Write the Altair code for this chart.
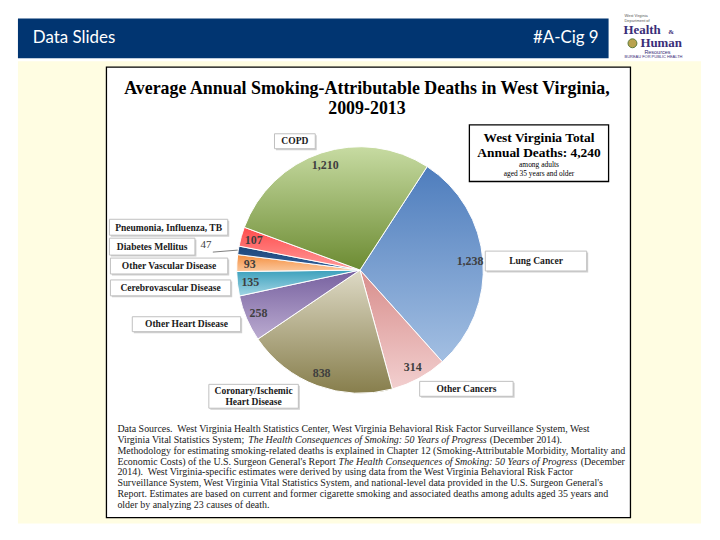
import math
import altair as alt
import pandas as pd

# ---------------- data ----------------
causes = [
    "Lung Cancer",
    "Other Cancers",
    "Coronary/Ischemic Heart Disease",
    "Other Heart Disease",
    "Cerebrovascular Disease",
    "Other Vascular Disease",
    "Diabetes Mellitus",
    "Pneumonia, Influenza, TB",
    "COPD",
]
deaths = [1238, 314, 838, 258, 135, 93, 47, 107, 1210]
value_text = ["1,238", "314", "838", "258", "135", "93", "47", "107", "1,210"]

TOTAL = sum(deaths)
START = math.radians(33)

df = pd.DataFrame({
    "order": list(range(len(causes))),
    "cause": causes,
    "deaths": deaths,
    "label": value_text,
})

# ---------------- styles ----------------
slice_grad = [
    ("#4E7DBD", "#A3BFE2"),   # Lung Cancer
    ("#D88E8C", "#F2CFCF"),   # Other Cancers
    ("#DEDAC6", "#877E4C"),   # Coronary
    ("#76609F", "#BBABD0"),   # Other Heart
    ("#3BA0BC", "#A2D5E4"),   # Cerebrovascular
    ("#F48E3E", "#FBC89E"),   # Other Vascular
    ("#1F477A", "#32609A"),   # Diabetes
    ("#FF4C4C", "#FF9A9A"),   # Pneumonia
    ("#C7DBA2", "#6C8B32"),   # COPD
]

OFF = 8  # page margin
W, H = 708, 524
anchor = pd.DataFrame({"k": [0]})


def rect(x1, y1, x2, y2, fill, stroke=None, sw=1.0):
    kw = dict(fill=fill)
    if stroke:
        kw.update(stroke=stroke, strokeWidth=sw)
    return alt.Chart(anchor).mark_rect(**kw).encode(
        x=alt.value(x1 - OFF), x2=alt.value(x2 - OFF),
        y=alt.value(y1 - OFF), y2=alt.value(y2 - OFF))


def txt(s, x, y, size, weight="normal", style="normal", font="Liberation Serif",
        color="#000000", align="left", baseline="middle"):
    return alt.Chart(anchor).mark_text(
        font=font, fontSize=size, fontWeight=weight, fontStyle=style,
        color=color, align=align, baseline=baseline).encode(
        x=alt.value(x - OFF), y=alt.value(y - OFF), text=alt.value(s))


def labelbox(x1, y1, x2, y2, lines, cx, cy):
    out = [rect(x1 + 1.5, y1 + 1.5, x2 + 1.5, y2 + 1.5, "#D0D0D0"),
           rect(x1, y1, x2, y2, "#FFFFFF", "#BFBFBF", 1)]
    if isinstance(lines, str):
        lines = [lines]
    n = len(lines)
    for k, ln in enumerate(lines):
        yy = cy + (k - (n - 1) / 2) * 11
        out.append(txt(ln, cx, yy, 9.6, weight="bold", color="#1A1A1A", align="center"))
    return out


layers = []

# backgrounds
layers.append(rect(18, 60, 705, 525, "#FFFDE2"))
layers.append(rect(18, 17, 612, 57, "#013571"))
layers.append(txt("Data Slides", 33, 37, 17, font="Lato", color="#FFFFFF"))
layers.append(txt("#A-Cig 9", 602, 37, 17, font="Lato", color="#FFFFFF", align="right"))

# logo
LOGO = "#3A2E78"
layers.append(txt("West Virginia", 628, 15, 4, font="Liberation Sans", color="#555555"))
layers.append(txt("Department of", 628, 19.5, 4, font="Liberation Sans", color="#555555"))
layers.append(txt("Health", 627, 29, 13, weight="bold", color=LOGO))
layers.append(txt("&", 672, 31, 7, weight="bold", color=LOGO))
layers.append(alt.Chart(anchor).mark_circle(size=80, color="#B9A24E", opacity=1,
                                            stroke="#5B7A3A", strokeWidth=1).encode(
    x=alt.value(636 - OFF), y=alt.value(42 - OFF)))
layers.append(txt("Human", 644, 41.5, 13, weight="bold", color=LOGO))
layers.append(txt("Resources", 648, 51, 5.5, font="Liberation Sans", color=LOGO))
layers.append(txt("BUREAU FOR PUBLIC HEALTH", 628, 55.5, 4, font="Liberation Sans", color=LOGO))

# chart panel
layers.append(rect(107, 66, 634, 519, "#FFFFFF", "#000000", 1.3))

# title
layers.append(txt("Average Annual Smoking-Attributable Deaths in West Virginia,", 369, 88, 18,
                  weight="bold", align="center"))
layers.append(txt("2009-2013", 369, 108, 18, weight="bold", align="center"))

# pie
base = alt.Chart(df).transform_window(
    cum="sum(deaths)", sort=[{"field": "order"}], frame=[None, 0]
).transform_calculate(
    start="datum.cum - datum.deaths",
    mid="datum.cum - datum.deaths / 2",
)
theta_scale = alt.Scale(domain=[0, TOTAL], range=[START, START + 2 * math.pi])

for i, (c0, c1) in enumerate(slice_grad):
    grad = alt.Gradient(gradient="linear", x1=0, y1=0, x2=0, y2=1,
                        stops=[alt.GradientStop(offset=0, color=c0),
                               alt.GradientStop(offset=1, color=c1)])
    layers.append(
        base.transform_filter(alt.datum.order == i)
        .mark_arc(outerRadius=124, stroke="#FFFFFF", strokeWidth=1, fill=grad)
        .encode(theta=alt.Theta("start:Q", scale=theta_scale), theta2=alt.Theta2("cum"))
    )

layers.append(
    base.transform_filter(alt.datum.order != 6)
    .mark_text(radius=111, font="Liberation Serif", fontWeight="bold", fontSize=12,
               color="#3F3F3F")
    .encode(theta=alt.Theta("mid:Q", scale=theta_scale), text="label:N")
)
layers.append(
    base.transform_filter(alt.datum.order == 6)
    .mark_text(radius=157, font="Liberation Serif", fontSize=11, color="#404040")
    .encode(theta=alt.Theta("mid:Q", scale=theta_scale), text="label:N")
)
layers.append(alt.Chart(anchor).mark_rule(color="#7F7F7F", strokeWidth=1).encode(
    x=alt.value(214 - OFF), x2=alt.value(239 - OFF),
    y=alt.value(252 - OFF), y2=alt.value(250 - OFF)))

# category label boxes
layers += labelbox(276, 133, 317, 148, causes[8], 296.5, 140.5)
layers += labelbox(110, 219, 229, 235, causes[7], 169.5, 227.5)
layers += labelbox(110, 238, 196, 255, causes[6], 153, 246.5)
layers += labelbox(111, 258, 229, 274, causes[5], 170, 266)
layers += labelbox(111, 280, 232, 296, causes[4], 171.5, 288)
layers += labelbox(133, 317, 242, 332, causes[3], 187.5, 324.5)
layers += labelbox(210, 385, 300, 409, causes[2].split(" ", 1), 255, 397.5)
layers += labelbox(488, 251, 590, 271, causes[0], 539, 261)
layers += labelbox(422, 382, 516, 397, causes[1], 469, 389.5)

# total box
layers.append(rect(472, 124, 612, 181, "#FFFFFF", "#000000", 1.3))
layers.append(txt("West Virginia Total", 542, 137, 13.5, weight="bold", align="center"))
layers.append(txt(f"Annual Deaths: {TOTAL:,}", 542, 152, 13.5, weight="bold", align="center"))
layers.append(txt("among adults", 542, 164, 7.5, align="center"))
layers.append(txt("aged 35 years and older", 542, 173, 7.5, align="center"))

# footnote
FS = 10
fy0, fdy = 430, 10.9
ital = "The Health Consequences of Smoking: 50 Years of Progress"
foot = [
    [("Data Sources.\u00a0 West Virginia Health Statistics Center, West Virginia Behavioral Risk Factor Surveillance System, West", 118, "normal")],
    [("Virginia Vital Statistics System;", 118, "normal"), (ital, 249.5, "italic"), ("(December 2014).", 492.5, "normal")],
    [("Methodology for estimating smoking-related deaths is explained in Chapter 12 (Smoking-Attributable Morbidity, Mortality and", 118, "normal")],
    [("Economic Costs) of the U.S. Surgeon General's Report", 118, "normal"), (ital, 340.5, "italic"), ("(December", 584, "normal")],
    [("2014).\u00a0 West Virginia-specific estimates were derived by using data from the West Virginia Behavioral Risk Factor", 118, "normal")],
    [("Surveillance System, West Virginia Vital Statistics System, and national-level data provided in the U.S. Surgeon General's", 118, "normal")],
    [("Report. Estimates are based on current and former cigarette smoking and associated deaths among adults aged 35 years and", 118, "normal")],
    [("older by analyzing 23 causes of death.", 118, "normal")],
]
for li, segs in enumerate(foot):
    for s, x, st in segs:
        layers.append(txt(s, x, fy0 + li * fdy, FS, style=st, color="#1A1A1A"))

chart = alt.layer(*layers).properties(
    width=W, height=H, padding=0,
    autosize=alt.AutoSizeParams(type="none"),
    background="#FFFFFF",
).configure_view(strokeWidth=0)

chart.save("out.html", embed_options={"renderer": "svg", "actions": False})
